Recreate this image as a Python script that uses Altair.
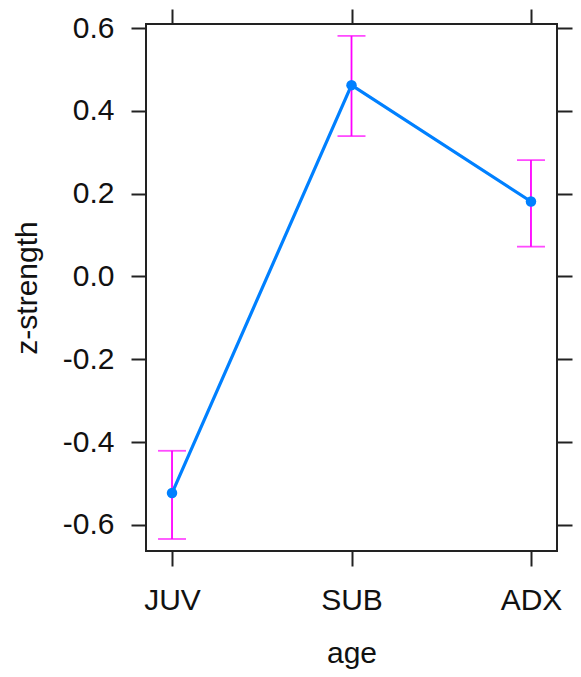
import altair as alt
import pandas as pd

age = ["JUV", "SUB", "ADX"]
fit = [-0.523, 0.462, 0.181]
lower = [-0.634, 0.339, 0.072]
upper = [-0.421, 0.581, 0.281]
y_ticks = [-0.6, -0.4, -0.2, 0.0, 0.2, 0.4, 0.6]
title_text = ["age"]

df = pd.DataFrame({"age": age, "fit": fit, "lower": lower, "upper": upper})
FONT = "Liberation Sans"
INK = "#111111"
FRAME = "#222222"

xscale = alt.Scale(type="point", domain=age, padding=0.145)
yscale = alt.Scale(domain=[-0.663, 0.6097], nice=False, zero=False)

common_axis = dict(domain=False, grid=False, ticks=True, tickSize=15, tickWidth=2,
                   tickColor=FRAME, labelFont=FONT, labelFontSize=30, labelColor=INK,
                   titleFont=FONT, titleFontSize=30, titleColor=INK, titleFontWeight="normal")

ylabel_expr = "datum.value < -0.0001 ? '-' + format(-datum.value, '.1f') : format(abs(datum.value), '.1f')"

x_bottom = alt.Axis(orient="bottom", title="age", labelAngle=0, labelBaseline="alphabetic",
                    labelPadding=43, titleX=205.5, titleY=111, titleAlign="center",
                    titleBaseline="alphabetic", titleAngle=0, **common_axis)
y_left = alt.Axis(orient="left", title="z-strength", values=y_ticks, labelExpr=ylabel_expr,
                  labelAlign="right", labelBaseline="middle", labelPadding=17,
                  titleX=-110, titleY=263.5, titleAngle=270, titleAlign="center",
                  titleBaseline="alphabetic", **common_axis)
x_top = alt.Axis(orient="top", labels=False, title=None, **common_axis)
y_right = alt.Axis(orient="right", labels=False, title=None, values=y_ticks, **common_axis)

line = alt.Chart(df).mark_line(color="#0080FF", strokeWidth=3.2).encode(
    x=alt.X("age:N", scale=xscale, sort=age, axis=x_bottom),
    y=alt.Y("fit:Q", scale=yscale, axis=y_left),
)

points = alt.Chart(df).mark_point(filled=True, color="#0080FF", size=110, opacity=1, shape="circle").encode(
    x=alt.X("age:N", scale=xscale, sort=age, axis=x_top),
    y=alt.Y("fit:Q", scale=yscale, axis=y_right),
)

rules = alt.Chart(df).mark_rule(color="#FF00FF", strokeWidth=1.8).encode(
    x=alt.X("age:N", scale=xscale, sort=age, axis=None),
    y=alt.Y("lower:Q", scale=yscale, axis=None),
    y2="upper:Q",
)

cap_lo = alt.Chart(df).mark_tick(color="#FF00FF", thickness=1.8, size=28, orient="horizontal").encode(
    x=alt.X("age:N", scale=xscale, sort=age, axis=None),
    y=alt.Y("lower:Q", scale=yscale, axis=None),
)
cap_hi = alt.Chart(df).mark_tick(color="#FF00FF", thickness=1.8, size=28, orient="horizontal").encode(
    x=alt.X("age:N", scale=xscale, sort=age, axis=None),
    y=alt.Y("upper:Q", scale=yscale, axis=None),
)

title_df = pd.DataFrame({"t": title_text})
title_mark = alt.Chart(title_df).mark_text(font=FONT, fontSize=30, color=INK, align="center",
                                            baseline="alphabetic").encode(
    text="t:N", x=alt.value(205.5), y=alt.value(-30)
)

chart = alt.layer(line, rules, cap_lo, cap_hi, points, title_mark).resolve_axis(
    x="independent", y="independent"
).properties(
    width=411, height=527,
    autosize=alt.AutoSizeParams(type="none"),
    padding={"left": 146, "top": 24, "right": 24, "bottom": 126},
    background="white",
).configure_view(stroke=FRAME, strokeWidth=2)

chart.save("out.html", embed_options={"renderer": "svg", "actions": False})
